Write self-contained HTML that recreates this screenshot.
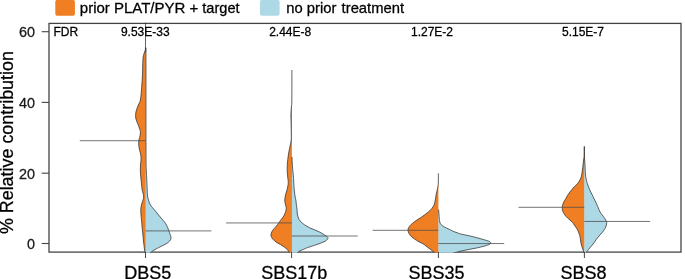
<!DOCTYPE html>
<html><head><meta charset="utf-8"><title>Relative contribution</title>
<style>
html,body{margin:0;padding:0;background:#fff;}
body{width:685px;height:279px;overflow:hidden;}
svg{display:block;}
text{font-family:"Liberation Sans",Arial,Helvetica,sans-serif;fill:#000;stroke:#000;stroke-width:0.28px;}
.tick{font-size:14.4px;fill:#1a1a1a;stroke:#1a1a1a;}
.fdr{font-size:12px;}
.leg{font-size:14.8px;}
.xl{font-size:18px;}
.yl{font-size:17.9px;}
</style></head><body>
<svg width="685" height="279" viewBox="0 0 685 279">
<defs><clipPath id="pc"><rect x="48.35" y="22.70" width="633.30" height="229.95"/></clipPath></defs>
<rect x="0" y="0" width="685" height="279" fill="#fff"/>

<rect x="55.3" y="-0.3" width="19.6" height="16.1" rx="2.6" ry="2.6" fill="#F07E22"/>
<text class="leg" y="13.4"><tspan x="79.8" style="font-size:15px">prior PLAT/PYR +</tspan> <tspan x="202.3" style="font-size:14.6px">target</tspan></text>
<rect x="260.0" y="-0.3" width="19.6" height="16.1" rx="2.6" ry="2.6" fill="#ADD8E6"/>
<text class="leg" y="13.4"><tspan x="286.2">no prior</tspan> <tspan x="341.6">treatment</tspan></text>
<rect x="49.0" y="23.4" width="632.0" height="228.7" fill="none" stroke="#444" stroke-width="1.3"/>
<g clip-path="url(#pc)">
<path d="M145.55 20.00 C145.53 24.67 145.54 42.83 145.45 48.00 C145.36 53.17 145.26 50.00 145.00 51.00 C144.74 52.00 144.20 53.00 143.90 54.00 C143.60 55.00 143.38 55.80 143.20 57.00 C143.02 58.20 142.93 59.70 142.85 61.20 C142.77 62.70 142.74 64.53 142.70 66.00 C142.66 67.47 142.63 68.67 142.60 70.00 C142.57 71.33 142.57 72.33 142.50 74.00 C142.43 75.67 142.32 78.17 142.20 80.00 C142.08 81.83 141.92 83.33 141.80 85.00 C141.68 86.67 141.73 87.50 141.50 90.00 C141.27 92.50 140.82 97.73 140.40 100.00 C139.98 102.27 139.53 102.28 139.00 103.60 C138.47 104.92 137.72 106.47 137.20 107.90 C136.68 109.33 136.17 110.88 135.90 112.20 C135.63 113.52 135.62 114.83 135.60 115.80 C135.58 116.77 135.60 117.03 135.80 118.00 C136.00 118.97 136.33 120.28 136.80 121.60 C137.27 122.92 138.05 124.47 138.60 125.90 C139.15 127.33 139.80 129.02 140.10 130.20 C140.40 131.38 140.47 131.82 140.40 133.00 C140.33 134.18 139.97 136.05 139.70 137.30 C139.43 138.55 138.95 139.08 138.80 140.50 C138.65 141.92 138.67 144.22 138.80 145.80 C138.93 147.38 139.27 148.47 139.60 150.00 C139.93 151.53 140.57 153.33 140.80 155.00 C141.03 156.67 141.05 158.33 141.00 160.00 C140.95 161.67 140.62 163.33 140.50 165.00 C140.38 166.67 140.28 168.33 140.30 170.00 C140.32 171.67 140.47 173.33 140.60 175.00 C140.73 176.67 140.93 178.33 141.10 180.00 C141.27 181.67 141.42 183.33 141.60 185.00 C141.78 186.67 141.85 188.00 142.20 190.00 C142.55 192.00 143.73 194.83 143.70 197.00 C143.67 199.17 142.48 201.07 142.00 203.00 C141.52 204.93 140.97 206.60 140.80 208.60 C140.63 210.60 140.88 213.10 141.00 215.00 C141.12 216.90 141.25 217.33 141.50 220.00 C141.75 222.67 142.13 227.18 142.50 231.00 C142.87 234.82 143.32 239.43 143.70 242.90 C144.08 246.37 144.59 250.08 144.80 251.80 C145.01 253.52 144.94 252.97 144.97 253.20 L145.95 253.20 L145.95 52.00 L145.60 52.00 L145.60 20.00 Z" fill="#F07E22" stroke="none"/>
<path d="M145.65 52.00 C145.70 52.67 145.89 39.67 145.95 56.00 C146.01 72.33 145.94 131.00 146.00 150.00 C146.06 169.00 146.17 165.00 146.30 170.00 C146.43 175.00 146.65 176.67 146.80 180.00 C146.95 183.33 147.05 187.17 147.20 190.00 C147.35 192.83 147.22 194.62 147.70 197.00 C148.18 199.38 149.25 202.47 150.10 204.30 C150.95 206.13 151.85 206.80 152.80 208.00 C153.75 209.20 154.83 210.33 155.80 211.50 C156.77 212.67 157.63 213.80 158.60 215.00 C159.57 216.20 160.62 217.53 161.60 218.70 C162.58 219.87 163.68 220.92 164.50 222.00 C165.32 223.08 165.80 223.83 166.50 225.20 C167.20 226.57 168.10 228.65 168.70 230.20 C169.30 231.75 169.72 233.38 170.10 234.50 C170.48 235.62 170.93 236.03 171.00 236.90 C171.07 237.77 171.00 238.75 170.50 239.70 C170.00 240.65 169.13 241.70 168.00 242.60 C166.87 243.50 165.27 244.27 163.70 245.10 C162.13 245.93 160.22 246.77 158.60 247.60 C156.98 248.43 155.20 249.38 154.00 250.10 C152.80 250.82 152.15 251.38 151.40 251.90 C150.65 252.42 149.84 252.98 149.52 253.20 L145.60 253.20 L145.60 52.00 Z" fill="#ADD8E6" stroke="none"/>
<path d="M145.55 20.00 C145.53 24.67 145.54 42.83 145.45 48.00 C145.36 53.17 145.26 50.00 145.00 51.00 C144.74 52.00 144.20 53.00 143.90 54.00 C143.60 55.00 143.38 55.80 143.20 57.00 C143.02 58.20 142.93 59.70 142.85 61.20 C142.77 62.70 142.74 64.53 142.70 66.00 C142.66 67.47 142.63 68.67 142.60 70.00 C142.57 71.33 142.57 72.33 142.50 74.00 C142.43 75.67 142.32 78.17 142.20 80.00 C142.08 81.83 141.92 83.33 141.80 85.00 C141.68 86.67 141.73 87.50 141.50 90.00 C141.27 92.50 140.82 97.73 140.40 100.00 C139.98 102.27 139.53 102.28 139.00 103.60 C138.47 104.92 137.72 106.47 137.20 107.90 C136.68 109.33 136.17 110.88 135.90 112.20 C135.63 113.52 135.62 114.83 135.60 115.80 C135.58 116.77 135.60 117.03 135.80 118.00 C136.00 118.97 136.33 120.28 136.80 121.60 C137.27 122.92 138.05 124.47 138.60 125.90 C139.15 127.33 139.80 129.02 140.10 130.20 C140.40 131.38 140.47 131.82 140.40 133.00 C140.33 134.18 139.97 136.05 139.70 137.30 C139.43 138.55 138.95 139.08 138.80 140.50 C138.65 141.92 138.67 144.22 138.80 145.80 C138.93 147.38 139.27 148.47 139.60 150.00 C139.93 151.53 140.57 153.33 140.80 155.00 C141.03 156.67 141.05 158.33 141.00 160.00 C140.95 161.67 140.62 163.33 140.50 165.00 C140.38 166.67 140.28 168.33 140.30 170.00 C140.32 171.67 140.47 173.33 140.60 175.00 C140.73 176.67 140.93 178.33 141.10 180.00 C141.27 181.67 141.42 183.33 141.60 185.00 C141.78 186.67 141.85 188.00 142.20 190.00 C142.55 192.00 143.73 194.83 143.70 197.00 C143.67 199.17 142.48 201.07 142.00 203.00 C141.52 204.93 140.97 206.60 140.80 208.60 C140.63 210.60 140.88 213.10 141.00 215.00 C141.12 216.90 141.25 217.33 141.50 220.00 C141.75 222.67 142.13 227.18 142.50 231.00 C142.87 234.82 143.32 239.43 143.70 242.90 C144.08 246.37 144.59 250.08 144.80 251.80 C145.01 253.52 144.94 252.97 144.97 253.20" fill="none" stroke="#2e2e2e" stroke-width="0.75" stroke-linejoin="round"/>
<path d="M145.65 52.00 C145.70 52.67 145.89 39.67 145.95 56.00 C146.01 72.33 145.94 131.00 146.00 150.00 C146.06 169.00 146.17 165.00 146.30 170.00 C146.43 175.00 146.65 176.67 146.80 180.00 C146.95 183.33 147.05 187.17 147.20 190.00 C147.35 192.83 147.22 194.62 147.70 197.00 C148.18 199.38 149.25 202.47 150.10 204.30 C150.95 206.13 151.85 206.80 152.80 208.00 C153.75 209.20 154.83 210.33 155.80 211.50 C156.77 212.67 157.63 213.80 158.60 215.00 C159.57 216.20 160.62 217.53 161.60 218.70 C162.58 219.87 163.68 220.92 164.50 222.00 C165.32 223.08 165.80 223.83 166.50 225.20 C167.20 226.57 168.10 228.65 168.70 230.20 C169.30 231.75 169.72 233.38 170.10 234.50 C170.48 235.62 170.93 236.03 171.00 236.90 C171.07 237.77 171.00 238.75 170.50 239.70 C170.00 240.65 169.13 241.70 168.00 242.60 C166.87 243.50 165.27 244.27 163.70 245.10 C162.13 245.93 160.22 246.77 158.60 247.60 C156.98 248.43 155.20 249.38 154.00 250.10 C152.80 250.82 152.15 251.38 151.40 251.90 C150.65 252.42 149.84 252.98 149.52 253.20" fill="none" stroke="#2e2e2e" stroke-width="0.75" stroke-linejoin="round"/>
<line x1="79.80" x2="145.60" y1="140.72" y2="140.72" stroke="#505050" stroke-width="0.8"/>
<line x1="145.60" x2="211.40" y1="230.90" y2="230.90" stroke="#505050" stroke-width="0.8"/>
<path d="M291.90 70.00 C291.89 75.00 291.92 94.00 291.85 100.00 C291.78 106.00 291.62 104.17 291.50 106.00 C291.38 107.83 291.20 109.50 291.10 111.00 C291.00 112.50 290.92 113.50 290.90 115.00 C290.88 116.50 290.95 117.83 291.00 120.00 C291.05 122.17 291.15 125.50 291.20 128.00 C291.25 130.50 291.30 133.00 291.30 135.00 C291.30 137.00 291.37 138.33 291.20 140.00 C291.03 141.67 290.70 142.97 290.30 145.00 C289.90 147.03 289.22 149.82 288.80 152.20 C288.38 154.58 288.03 157.50 287.80 159.30 C287.57 161.10 287.50 161.18 287.40 163.00 C287.30 164.82 287.15 167.82 287.20 170.20 C287.25 172.58 287.53 175.50 287.70 177.30 C287.87 179.10 288.13 179.78 288.20 181.00 C288.27 182.22 288.28 183.17 288.10 184.60 C287.92 186.03 287.52 187.93 287.10 189.60 C286.68 191.27 285.97 193.05 285.60 194.60 C285.23 196.15 285.03 197.83 284.90 198.90 C284.77 199.97 284.75 200.22 284.80 201.00 C284.85 201.78 285.02 202.77 285.20 203.60 C285.38 204.43 285.72 205.28 285.90 206.00 C286.08 206.72 286.27 207.23 286.30 207.90 C286.33 208.57 286.23 209.28 286.10 210.00 C285.97 210.72 285.73 211.53 285.50 212.20 C285.27 212.87 284.98 213.37 284.70 214.00 C284.42 214.63 284.32 215.18 283.80 216.00 C283.28 216.82 282.38 217.83 281.60 218.90 C280.82 219.97 280.05 221.10 279.10 222.40 C278.15 223.70 276.97 225.38 275.90 226.70 C274.83 228.02 273.47 229.22 272.70 230.30 C271.93 231.38 271.58 232.25 271.30 233.20 C271.02 234.15 270.77 235.03 271.00 236.00 C271.23 236.97 271.88 238.02 272.70 239.00 C273.52 239.98 274.65 241.00 275.90 241.90 C277.15 242.80 278.82 243.57 280.20 244.40 C281.58 245.23 283.03 246.07 284.20 246.90 C285.37 247.73 286.48 248.68 287.20 249.40 C287.92 250.12 288.07 250.57 288.50 251.20 C288.93 251.83 289.58 252.87 289.80 253.20 L292.25 253.20 L292.25 157.00 L291.90 157.00 L291.90 70.00 Z" fill="#F07E22" stroke="none"/>
<path d="M291.95 157.00 C291.96 157.50 291.96 159.00 292.00 160.00 C292.04 161.00 292.07 161.30 292.20 163.00 C292.33 164.70 292.58 167.82 292.80 170.20 C293.02 172.58 293.35 175.50 293.50 177.30 C293.65 179.10 293.60 179.18 293.70 181.00 C293.80 182.82 293.90 185.82 294.10 188.20 C294.30 190.58 294.58 193.17 294.90 195.30 C295.22 197.43 295.77 199.50 296.00 201.00 C296.23 202.50 296.13 202.92 296.30 204.30 C296.47 205.68 296.82 207.63 297.00 209.30 C297.18 210.97 297.17 212.87 297.40 214.30 C297.63 215.73 298.08 216.98 298.40 217.90 C298.72 218.82 298.88 219.13 299.30 219.80 C299.72 220.47 300.03 221.07 300.90 221.90 C301.77 222.73 303.07 223.83 304.50 224.80 C305.93 225.77 307.83 226.87 309.50 227.70 C311.17 228.53 312.83 229.08 314.50 229.80 C316.17 230.52 317.95 231.22 319.50 232.00 C321.05 232.78 322.55 233.73 323.80 234.50 C325.05 235.27 326.32 236.03 327.00 236.60 C327.68 237.17 327.83 237.43 327.90 237.90 C327.97 238.37 327.85 238.85 327.40 239.40 C326.95 239.95 326.40 240.55 325.20 241.20 C324.00 241.85 321.87 242.65 320.20 243.30 C318.53 243.95 317.30 244.38 315.20 245.10 C313.10 245.82 309.57 246.88 307.60 247.60 C305.63 248.32 304.78 248.80 303.40 249.40 C302.02 250.00 300.15 250.77 299.30 251.20 C298.45 251.63 298.68 251.67 298.30 252.00 C297.92 252.33 297.22 253.00 297.00 253.20 L291.90 253.20 L291.90 157.00 Z" fill="#ADD8E6" stroke="none"/>
<path d="M291.90 70.00 C291.89 75.00 291.92 94.00 291.85 100.00 C291.78 106.00 291.62 104.17 291.50 106.00 C291.38 107.83 291.20 109.50 291.10 111.00 C291.00 112.50 290.92 113.50 290.90 115.00 C290.88 116.50 290.95 117.83 291.00 120.00 C291.05 122.17 291.15 125.50 291.20 128.00 C291.25 130.50 291.30 133.00 291.30 135.00 C291.30 137.00 291.37 138.33 291.20 140.00 C291.03 141.67 290.70 142.97 290.30 145.00 C289.90 147.03 289.22 149.82 288.80 152.20 C288.38 154.58 288.03 157.50 287.80 159.30 C287.57 161.10 287.50 161.18 287.40 163.00 C287.30 164.82 287.15 167.82 287.20 170.20 C287.25 172.58 287.53 175.50 287.70 177.30 C287.87 179.10 288.13 179.78 288.20 181.00 C288.27 182.22 288.28 183.17 288.10 184.60 C287.92 186.03 287.52 187.93 287.10 189.60 C286.68 191.27 285.97 193.05 285.60 194.60 C285.23 196.15 285.03 197.83 284.90 198.90 C284.77 199.97 284.75 200.22 284.80 201.00 C284.85 201.78 285.02 202.77 285.20 203.60 C285.38 204.43 285.72 205.28 285.90 206.00 C286.08 206.72 286.27 207.23 286.30 207.90 C286.33 208.57 286.23 209.28 286.10 210.00 C285.97 210.72 285.73 211.53 285.50 212.20 C285.27 212.87 284.98 213.37 284.70 214.00 C284.42 214.63 284.32 215.18 283.80 216.00 C283.28 216.82 282.38 217.83 281.60 218.90 C280.82 219.97 280.05 221.10 279.10 222.40 C278.15 223.70 276.97 225.38 275.90 226.70 C274.83 228.02 273.47 229.22 272.70 230.30 C271.93 231.38 271.58 232.25 271.30 233.20 C271.02 234.15 270.77 235.03 271.00 236.00 C271.23 236.97 271.88 238.02 272.70 239.00 C273.52 239.98 274.65 241.00 275.90 241.90 C277.15 242.80 278.82 243.57 280.20 244.40 C281.58 245.23 283.03 246.07 284.20 246.90 C285.37 247.73 286.48 248.68 287.20 249.40 C287.92 250.12 288.07 250.57 288.50 251.20 C288.93 251.83 289.58 252.87 289.80 253.20" fill="none" stroke="#2e2e2e" stroke-width="0.75" stroke-linejoin="round"/>
<path d="M291.95 157.00 C291.96 157.50 291.96 159.00 292.00 160.00 C292.04 161.00 292.07 161.30 292.20 163.00 C292.33 164.70 292.58 167.82 292.80 170.20 C293.02 172.58 293.35 175.50 293.50 177.30 C293.65 179.10 293.60 179.18 293.70 181.00 C293.80 182.82 293.90 185.82 294.10 188.20 C294.30 190.58 294.58 193.17 294.90 195.30 C295.22 197.43 295.77 199.50 296.00 201.00 C296.23 202.50 296.13 202.92 296.30 204.30 C296.47 205.68 296.82 207.63 297.00 209.30 C297.18 210.97 297.17 212.87 297.40 214.30 C297.63 215.73 298.08 216.98 298.40 217.90 C298.72 218.82 298.88 219.13 299.30 219.80 C299.72 220.47 300.03 221.07 300.90 221.90 C301.77 222.73 303.07 223.83 304.50 224.80 C305.93 225.77 307.83 226.87 309.50 227.70 C311.17 228.53 312.83 229.08 314.50 229.80 C316.17 230.52 317.95 231.22 319.50 232.00 C321.05 232.78 322.55 233.73 323.80 234.50 C325.05 235.27 326.32 236.03 327.00 236.60 C327.68 237.17 327.83 237.43 327.90 237.90 C327.97 238.37 327.85 238.85 327.40 239.40 C326.95 239.95 326.40 240.55 325.20 241.20 C324.00 241.85 321.87 242.65 320.20 243.30 C318.53 243.95 317.30 244.38 315.20 245.10 C313.10 245.82 309.57 246.88 307.60 247.60 C305.63 248.32 304.78 248.80 303.40 249.40 C302.02 250.00 300.15 250.77 299.30 251.20 C298.45 251.63 298.68 251.67 298.30 252.00 C297.92 252.33 297.22 253.00 297.00 253.20" fill="none" stroke="#2e2e2e" stroke-width="0.75" stroke-linejoin="round"/>
<line x1="226.10" x2="291.90" y1="222.95" y2="222.95" stroke="#505050" stroke-width="0.8"/>
<line x1="291.90" x2="357.70" y1="236.00" y2="236.00" stroke="#505050" stroke-width="0.8"/>
<path d="M438.40 173.30 C438.38 174.92 438.40 180.72 438.30 183.00 C438.20 185.28 437.98 185.83 437.80 187.00 C437.62 188.17 437.45 188.88 437.20 190.00 C436.95 191.12 436.62 192.03 436.30 193.70 C435.98 195.37 435.62 198.28 435.30 200.00 C434.98 201.72 434.78 202.85 434.40 204.00 C434.02 205.15 433.72 205.83 433.00 206.90 C432.28 207.97 431.30 209.22 430.10 210.40 C428.90 211.58 427.35 212.80 425.80 214.00 C424.25 215.20 422.47 216.47 420.80 217.60 C419.13 218.73 417.02 219.98 415.80 220.80 C414.58 221.62 414.35 221.82 413.50 222.50 C412.65 223.18 411.52 224.03 410.70 224.90 C409.88 225.77 409.05 226.82 408.60 227.70 C408.15 228.58 407.93 229.23 408.00 230.20 C408.07 231.17 408.37 232.37 409.00 233.50 C409.63 234.63 410.55 235.87 411.80 237.00 C413.05 238.13 415.25 239.47 416.50 240.30 C417.75 241.13 418.17 241.38 419.30 242.00 C420.43 242.62 422.18 243.33 423.30 244.00 C424.42 244.67 425.12 245.33 426.00 246.00 C426.88 246.67 427.72 247.33 428.60 248.00 C429.48 248.67 430.52 249.42 431.30 250.00 C432.08 250.58 432.60 250.97 433.30 251.50 C434.00 252.03 435.13 252.92 435.50 253.20 L438.75 253.20 L438.75 209.70 L438.40 209.70 L438.40 173.30 Z" fill="#F07E22" stroke="none"/>
<path d="M438.35 209.70 C438.41 209.92 438.54 209.57 438.70 211.00 C438.86 212.43 439.12 216.47 439.30 218.30 C439.48 220.13 439.58 221.05 439.80 222.00 C440.02 222.95 440.32 223.52 440.60 224.00 C440.88 224.48 440.87 224.40 441.50 224.90 C442.13 225.40 443.15 226.28 444.40 227.00 C445.65 227.72 447.82 228.62 449.00 229.20 C450.18 229.78 450.50 230.03 451.50 230.50 C452.50 230.97 453.95 231.58 455.00 232.00 C456.05 232.42 456.85 232.67 457.80 233.00 C458.75 233.33 458.78 233.53 460.70 234.00 C462.62 234.47 466.67 235.20 469.30 235.80 C471.93 236.40 474.10 236.97 476.50 237.60 C478.90 238.23 481.67 239.00 483.70 239.60 C485.73 240.20 487.60 240.77 488.70 241.20 C489.80 241.63 489.95 241.90 490.30 242.20 C490.65 242.50 490.80 242.73 490.80 243.00 C490.80 243.27 490.65 243.52 490.30 243.80 C489.95 244.08 489.80 244.28 488.70 244.70 C487.60 245.12 485.73 245.75 483.70 246.30 C481.67 246.85 478.90 247.48 476.50 248.00 C474.10 248.52 471.68 248.93 469.30 249.40 C466.92 249.87 464.10 250.38 462.20 250.80 C460.30 251.22 459.46 251.50 457.90 251.90 C456.34 252.30 453.67 252.98 452.82 253.20 L438.40 253.20 L438.40 209.70 Z" fill="#ADD8E6" stroke="none"/>
<path d="M438.40 173.30 C438.38 174.92 438.40 180.72 438.30 183.00 C438.20 185.28 437.98 185.83 437.80 187.00 C437.62 188.17 437.45 188.88 437.20 190.00 C436.95 191.12 436.62 192.03 436.30 193.70 C435.98 195.37 435.62 198.28 435.30 200.00 C434.98 201.72 434.78 202.85 434.40 204.00 C434.02 205.15 433.72 205.83 433.00 206.90 C432.28 207.97 431.30 209.22 430.10 210.40 C428.90 211.58 427.35 212.80 425.80 214.00 C424.25 215.20 422.47 216.47 420.80 217.60 C419.13 218.73 417.02 219.98 415.80 220.80 C414.58 221.62 414.35 221.82 413.50 222.50 C412.65 223.18 411.52 224.03 410.70 224.90 C409.88 225.77 409.05 226.82 408.60 227.70 C408.15 228.58 407.93 229.23 408.00 230.20 C408.07 231.17 408.37 232.37 409.00 233.50 C409.63 234.63 410.55 235.87 411.80 237.00 C413.05 238.13 415.25 239.47 416.50 240.30 C417.75 241.13 418.17 241.38 419.30 242.00 C420.43 242.62 422.18 243.33 423.30 244.00 C424.42 244.67 425.12 245.33 426.00 246.00 C426.88 246.67 427.72 247.33 428.60 248.00 C429.48 248.67 430.52 249.42 431.30 250.00 C432.08 250.58 432.60 250.97 433.30 251.50 C434.00 252.03 435.13 252.92 435.50 253.20" fill="none" stroke="#2e2e2e" stroke-width="0.75" stroke-linejoin="round"/>
<path d="M438.35 209.70 C438.41 209.92 438.54 209.57 438.70 211.00 C438.86 212.43 439.12 216.47 439.30 218.30 C439.48 220.13 439.58 221.05 439.80 222.00 C440.02 222.95 440.32 223.52 440.60 224.00 C440.88 224.48 440.87 224.40 441.50 224.90 C442.13 225.40 443.15 226.28 444.40 227.00 C445.65 227.72 447.82 228.62 449.00 229.20 C450.18 229.78 450.50 230.03 451.50 230.50 C452.50 230.97 453.95 231.58 455.00 232.00 C456.05 232.42 456.85 232.67 457.80 233.00 C458.75 233.33 458.78 233.53 460.70 234.00 C462.62 234.47 466.67 235.20 469.30 235.80 C471.93 236.40 474.10 236.97 476.50 237.60 C478.90 238.23 481.67 239.00 483.70 239.60 C485.73 240.20 487.60 240.77 488.70 241.20 C489.80 241.63 489.95 241.90 490.30 242.20 C490.65 242.50 490.80 242.73 490.80 243.00 C490.80 243.27 490.65 243.52 490.30 243.80 C489.95 244.08 489.80 244.28 488.70 244.70 C487.60 245.12 485.73 245.75 483.70 246.30 C481.67 246.85 478.90 247.48 476.50 248.00 C474.10 248.52 471.68 248.93 469.30 249.40 C466.92 249.87 464.10 250.38 462.20 250.80 C460.30 251.22 459.46 251.50 457.90 251.90 C456.34 252.30 453.67 252.98 452.82 253.20" fill="none" stroke="#2e2e2e" stroke-width="0.75" stroke-linejoin="round"/>
<line x1="372.60" x2="438.40" y1="230.30" y2="230.30" stroke="#505050" stroke-width="0.8"/>
<line x1="438.40" x2="504.20" y1="243.55" y2="243.55" stroke="#505050" stroke-width="0.8"/>
<path d="M584.30 146.40 C584.28 147.83 584.32 152.73 584.20 155.00 C584.08 157.27 583.80 158.33 583.60 160.00 C583.40 161.67 583.20 163.33 583.00 165.00 C582.80 166.67 582.65 168.17 582.40 170.00 C582.15 171.83 581.88 174.40 581.50 176.00 C581.12 177.60 580.70 178.40 580.10 179.60 C579.50 180.80 578.85 182.02 577.90 183.20 C576.95 184.38 575.60 185.40 574.40 186.70 C573.20 188.00 571.83 189.57 570.70 191.00 C569.57 192.43 568.35 194.13 567.60 195.30 C566.85 196.47 566.80 196.95 566.20 198.00 C565.60 199.05 564.60 200.40 564.00 201.60 C563.40 202.80 562.90 204.18 562.60 205.20 C562.30 206.22 562.15 206.63 562.20 207.70 C562.25 208.77 562.42 210.35 562.90 211.60 C563.38 212.85 564.32 214.13 565.10 215.20 C565.88 216.27 566.40 216.83 567.60 218.00 C568.80 219.17 571.18 221.03 572.30 222.20 C573.42 223.37 573.47 223.80 574.30 225.00 C575.13 226.20 576.60 228.20 577.30 229.40 C578.00 230.60 578.05 231.02 578.50 232.20 C578.95 233.38 579.67 235.20 580.00 236.50 C580.33 237.80 580.32 238.75 580.50 240.00 C580.68 241.25 580.78 242.67 581.10 244.00 C581.42 245.33 581.95 246.67 582.40 248.00 C582.85 249.33 583.50 251.13 583.80 252.00 C584.10 252.87 584.13 253.00 584.20 253.20 L584.65 253.20 L584.65 146.40 L584.30 146.40 L584.30 146.40 Z" fill="#F07E22" stroke="none"/>
<path d="M584.30 146.40 C584.32 148.17 584.33 153.90 584.45 157.00 C584.57 160.10 584.83 162.00 585.00 165.00 C585.17 168.00 585.27 172.50 585.50 175.00 C585.73 177.50 586.17 178.80 586.40 180.00 C586.63 181.20 586.38 180.65 586.90 182.20 C587.42 183.75 588.48 186.92 589.50 189.30 C590.52 191.68 591.83 194.10 593.00 196.50 C594.17 198.90 595.67 201.92 596.50 203.70 C597.33 205.48 597.41 205.82 598.00 207.20 C598.59 208.58 599.35 210.72 600.05 212.00 C600.75 213.28 601.43 213.83 602.20 214.90 C602.98 215.97 604.00 217.33 604.70 218.40 C605.40 219.47 606.08 220.40 606.40 221.30 C606.72 222.20 606.70 222.85 606.60 223.80 C606.50 224.75 606.23 225.98 605.80 227.00 C605.37 228.02 604.53 229.07 604.00 229.90 C603.47 230.73 603.43 230.98 602.60 232.00 C601.77 233.02 600.03 234.78 599.00 236.00 C597.97 237.22 597.27 238.13 596.40 239.30 C595.53 240.47 594.70 241.80 593.80 243.00 C592.90 244.20 591.88 245.42 591.00 246.50 C590.12 247.58 589.25 248.58 588.50 249.50 C587.75 250.42 587.00 251.38 586.50 252.00 C586.00 252.62 585.67 253.00 585.50 253.20 L584.30 253.20 L584.30 146.40 Z" fill="#ADD8E6" stroke="none"/>
<path d="M584.30 146.40 C584.28 147.83 584.32 152.73 584.20 155.00 C584.08 157.27 583.80 158.33 583.60 160.00 C583.40 161.67 583.20 163.33 583.00 165.00 C582.80 166.67 582.65 168.17 582.40 170.00 C582.15 171.83 581.88 174.40 581.50 176.00 C581.12 177.60 580.70 178.40 580.10 179.60 C579.50 180.80 578.85 182.02 577.90 183.20 C576.95 184.38 575.60 185.40 574.40 186.70 C573.20 188.00 571.83 189.57 570.70 191.00 C569.57 192.43 568.35 194.13 567.60 195.30 C566.85 196.47 566.80 196.95 566.20 198.00 C565.60 199.05 564.60 200.40 564.00 201.60 C563.40 202.80 562.90 204.18 562.60 205.20 C562.30 206.22 562.15 206.63 562.20 207.70 C562.25 208.77 562.42 210.35 562.90 211.60 C563.38 212.85 564.32 214.13 565.10 215.20 C565.88 216.27 566.40 216.83 567.60 218.00 C568.80 219.17 571.18 221.03 572.30 222.20 C573.42 223.37 573.47 223.80 574.30 225.00 C575.13 226.20 576.60 228.20 577.30 229.40 C578.00 230.60 578.05 231.02 578.50 232.20 C578.95 233.38 579.67 235.20 580.00 236.50 C580.33 237.80 580.32 238.75 580.50 240.00 C580.68 241.25 580.78 242.67 581.10 244.00 C581.42 245.33 581.95 246.67 582.40 248.00 C582.85 249.33 583.50 251.13 583.80 252.00 C584.10 252.87 584.13 253.00 584.20 253.20" fill="none" stroke="#2e2e2e" stroke-width="0.75" stroke-linejoin="round"/>
<path d="M584.30 146.40 C584.32 148.17 584.33 153.90 584.45 157.00 C584.57 160.10 584.83 162.00 585.00 165.00 C585.17 168.00 585.27 172.50 585.50 175.00 C585.73 177.50 586.17 178.80 586.40 180.00 C586.63 181.20 586.38 180.65 586.90 182.20 C587.42 183.75 588.48 186.92 589.50 189.30 C590.52 191.68 591.83 194.10 593.00 196.50 C594.17 198.90 595.67 201.92 596.50 203.70 C597.33 205.48 597.41 205.82 598.00 207.20 C598.59 208.58 599.35 210.72 600.05 212.00 C600.75 213.28 601.43 213.83 602.20 214.90 C602.98 215.97 604.00 217.33 604.70 218.40 C605.40 219.47 606.08 220.40 606.40 221.30 C606.72 222.20 606.70 222.85 606.60 223.80 C606.50 224.75 606.23 225.98 605.80 227.00 C605.37 228.02 604.53 229.07 604.00 229.90 C603.47 230.73 603.43 230.98 602.60 232.00 C601.77 233.02 600.03 234.78 599.00 236.00 C597.97 237.22 597.27 238.13 596.40 239.30 C595.53 240.47 594.70 241.80 593.80 243.00 C592.90 244.20 591.88 245.42 591.00 246.50 C590.12 247.58 589.25 248.58 588.50 249.50 C587.75 250.42 587.00 251.38 586.50 252.00 C586.00 252.62 585.67 253.00 585.50 253.20" fill="none" stroke="#2e2e2e" stroke-width="0.75" stroke-linejoin="round"/>
<line x1="518.50" x2="584.30" y1="207.30" y2="207.30" stroke="#505050" stroke-width="0.8"/>
<line x1="584.30" x2="650.10" y1="221.45" y2="221.45" stroke="#505050" stroke-width="0.8"/>
</g>
<line x1="41.7" x2="49.0" y1="31.7" y2="31.7" stroke="#444" stroke-width="1.1"/>
<text class="tick" x="34.9" y="37.3" text-anchor="end">60</text>
<line x1="41.7" x2="49.0" y1="102.4" y2="102.4" stroke="#444" stroke-width="1.1"/>
<text class="tick" x="34.9" y="108.0" text-anchor="end">40</text>
<line x1="41.7" x2="49.0" y1="173.2" y2="173.2" stroke="#444" stroke-width="1.1"/>
<text class="tick" x="34.9" y="178.8" text-anchor="end">20</text>
<line x1="41.7" x2="49.0" y1="243.5" y2="243.5" stroke="#444" stroke-width="1.1"/>
<text class="tick" x="34.9" y="249.1" text-anchor="end">0</text>
<line x1="145.5" x2="145.5" y1="252.0" y2="258" stroke="#333" stroke-width="0.9"/>
<text class="xl" x="147.7" y="278.7" text-anchor="middle">DBS5</text>
<line x1="291.6" x2="291.6" y1="252.0" y2="258" stroke="#333" stroke-width="0.9"/>
<text class="xl" x="294.2" y="278.7" text-anchor="middle">SBS17b</text>
<line x1="438.4" x2="438.4" y1="252.0" y2="258" stroke="#333" stroke-width="0.9"/>
<text class="xl" x="436.6" y="278.7" text-anchor="middle">SBS35</text>
<line x1="584.4" x2="584.4" y1="252.0" y2="258" stroke="#333" stroke-width="0.9"/>
<text class="xl" x="583.5" y="278.7" text-anchor="middle">SBS8</text>
<text class="fdr" x="53.5" y="36">FDR</text>
<text class="fdr" x="145.3" y="36" text-anchor="middle">9.53E-33</text>
<text class="fdr" x="290.2" y="36" text-anchor="middle">2.44E-8</text>
<text class="fdr" x="432.0" y="36" text-anchor="middle">1.27E-2</text>
<text class="fdr" x="583.0" y="36" text-anchor="middle">5.15E-7</text>
<text class="yl" transform="translate(13.4,234.1) rotate(-90)">% Relative contribution</text>
</svg></body></html>
